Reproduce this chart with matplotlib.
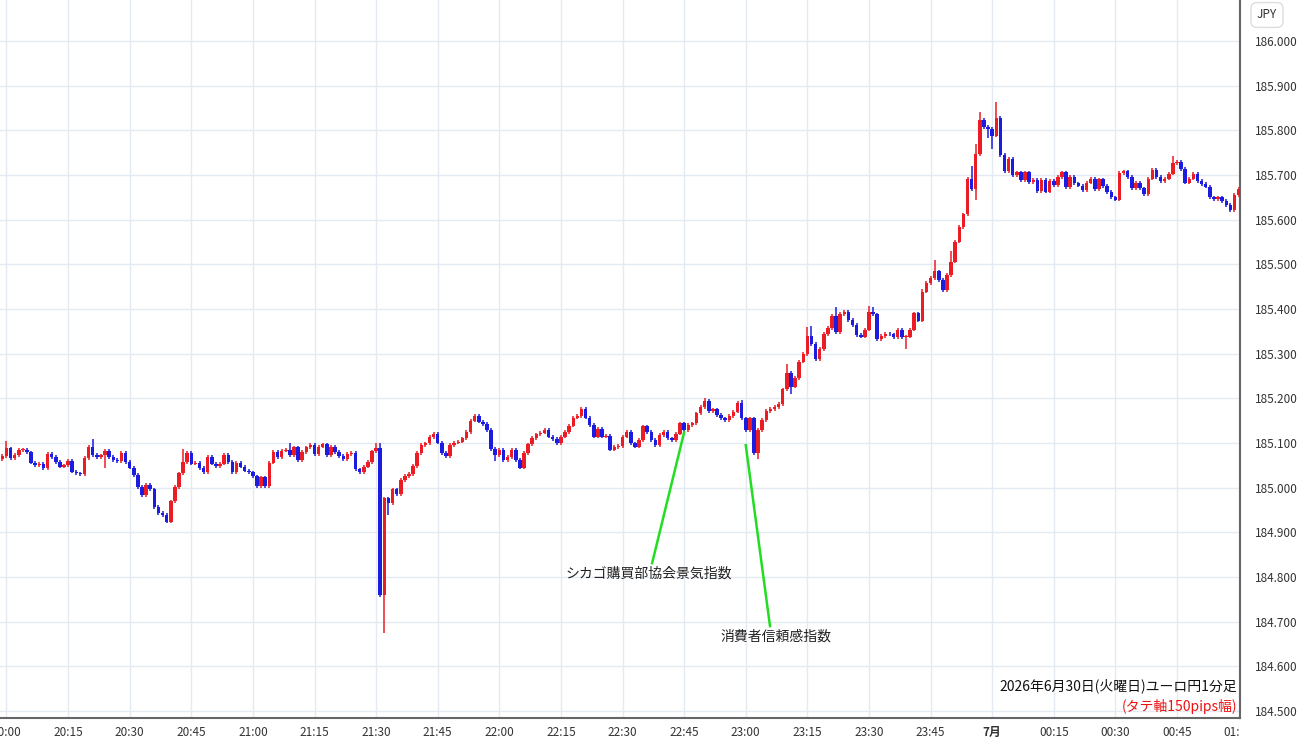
import numpy as np
import matplotlib
matplotlib.use("Agg")
import matplotlib.pyplot as plt
from matplotlib.transforms import Bbox, TransformedBbox

plt.rcParams['font.family'] = ['Noto Sans CJK JP', 'DejaVu Sans']

# 1-minute EUR/JPY closes, 19:59 -> 01:00 (minute index -1 .. 300)
first_open = 185.063
closes = [
    185.071,
    185.088, 185.066, 185.073, 185.084, 185.085, 185.079, 185.056, 185.050, 185.054, 185.043,
    185.075, 185.068, 185.058, 185.047, 185.050, 185.060, 185.036, 185.032, 185.030, 185.066,
    185.092, 185.073, 185.068, 185.072, 185.083, 185.069, 185.062, 185.060, 185.077, 185.058,
    185.045, 185.028, 185.002, 184.984, 185.006, 184.996, 184.956, 184.943, 184.939, 184.924,
    184.969, 185.002, 185.032, 185.058, 185.077, 185.054, 185.055, 185.044, 185.034, 185.069,
    185.054, 185.049, 185.054, 185.073, 185.058, 185.034, 185.056, 185.047, 185.038, 185.034,
    185.025, 185.004, 185.023, 185.004, 185.056, 185.080, 185.068, 185.083, 185.084, 185.073,
    185.090, 185.062, 185.080, 185.090, 185.095, 185.075, 185.092, 185.097, 185.073, 185.092,
    185.080, 185.071, 185.063, 185.075, 185.077, 185.041, 185.034, 185.047, 185.058, 185.081,
    185.088, 184.760, 184.976, 184.966, 184.996, 184.986, 185.017, 185.026, 185.030, 185.048,
    185.077, 185.096, 185.099, 185.113, 185.120, 185.101, 185.077, 185.071, 185.095, 185.101,
    185.103, 185.110, 185.125, 185.150, 185.161, 185.148, 185.142, 185.129, 185.086, 185.073,
    185.084, 185.062, 185.069, 185.084, 185.062, 185.045, 185.077, 185.097, 185.111, 185.119,
    185.123, 185.130, 185.114, 185.109, 185.099, 185.114, 185.124, 185.139, 185.157, 185.160,
    185.176, 185.157, 185.140, 185.114, 185.132, 185.114, 185.116, 185.085, 185.091, 185.093,
    185.114, 185.125, 185.099, 185.092, 185.107, 185.137, 185.125, 185.107, 185.095, 185.118,
    185.125, 185.110, 185.106, 185.121, 185.144, 185.129, 185.140, 185.144, 185.166, 185.181,
    185.194, 185.172, 185.175, 185.163, 185.155, 185.151, 185.160, 185.170, 185.189, 185.155,
    185.129, 185.155, 185.077, 185.129, 185.151, 185.172, 185.176, 185.181, 185.187, 185.220,
    185.257, 185.226, 185.245, 185.282, 185.299, 185.340, 185.322, 185.287, 185.310, 185.344,
    185.357, 185.384, 185.349, 185.389, 185.394, 185.375, 185.364, 185.342, 185.338, 185.354,
    185.394, 185.388, 185.332, 185.339, 185.345, 185.343, 185.337, 185.353, 185.337, 185.338,
    185.354, 185.390, 185.374, 185.439, 185.458, 185.469, 185.484, 185.465, 185.443, 185.476,
    185.506, 185.551, 185.584, 185.612, 185.691, 185.669, 185.746, 185.823, 185.808, 185.803,
    185.788, 185.827, 185.745, 185.709, 185.736, 185.700, 185.706, 185.689, 185.706, 185.684,
    185.689, 185.664, 185.689, 185.663, 185.687, 185.678, 185.696, 185.706, 185.672, 185.696,
    185.681, 185.676, 185.666, 185.683, 185.692, 185.668, 185.690, 185.675, 185.662, 185.650,
    185.645, 185.704, 185.708, 185.695, 185.670, 185.683, 185.670, 185.657, 185.692, 185.711,
    185.696, 185.687, 185.692, 185.703, 185.726, 185.729, 185.713, 185.683, 185.692, 185.702,
    185.687, 185.680, 185.674, 185.650, 185.646, 185.650, 185.642, 185.633, 185.621, 185.655,
    185.668,
]

# long wicks (minute index -> price)
wick_high = {0: 185.105, 21: 185.108, 43: 185.086, 69: 185.100, 90: 185.101, 91: 185.101,
             170: 185.200, 179: 185.196, 190: 185.277, 195: 185.359, 196: 185.362,
             202: 185.405, 210: 185.407, 211: 185.404, 223: 185.445, 226: 185.510,
             230: 185.530, 235: 185.721, 236: 185.769, 237: 185.840, 241: 185.863,
             284: 185.742}
wick_low = {24: 185.043, 92: 184.674, 93: 184.939, 119: 185.060, 183: 185.064,
            191: 185.210, 219: 185.310, 236: 185.644, 239: 185.782, 240: 185.758}

tick_minutes = list(range(0, 301, 15))
tick_labels = ["20:00", "20:15", "20:30", "20:45", "21:00", "21:15", "21:30", "21:45",
               "22:00", "22:15", "22:30", "22:45", "23:00", "23:15", "23:30", "23:45",
               "7月", "00:15", "00:30", "00:45", "01:00"]
price_ticks = [184.5 + 0.1 * i for i in range(16)]

events = [
    ("シカゴ購買部協会景気指数", (165, 185.124), (157.2, 184.831), (156.4, 184.807)),
    ("消費者信頼感指数", (180, 185.095), (185.9, 184.690), (187.4, 184.666)),
]

RED = "#ec1c24"
BLUE = "#1c1ce0"

c = np.array(closes)
o = np.concatenate([[first_open], c[:-1]])
m = np.arange(-1, len(c) - 1)
hi = np.maximum(o, c) + 0.004
lo = np.minimum(o, c) - 0.004
for k, v in wick_high.items():
    hi[k + 1] = v
for k, v in wick_low.items():
    lo[k + 1] = v
up = c >= o
cols = np.where(up, RED, BLUE)

fig = plt.figure(figsize=(13, 7.45), dpi=100)
ax = fig.add_axes([0, 27 / 745, 1240 / 1300, 718 / 745])

ax.vlines(m, lo, hi, colors=cols, linewidth=1.1, zorder=3)
body = np.maximum(np.abs(c - o), 0.0018)
ax.bar(m, body, bottom=np.minimum(o, c), width=0.85, color=cols, linewidth=0, zorder=4)

for label, p0, p1, pt in events:
    ax.plot([p0[0], p1[0]], [p0[1], p1[1]], color="#22dd22", linewidth=1.8, zorder=5)
    ax.text(pt[0], pt[1], label, ha="center", va="center", fontsize=10, color="#222222")

ax.set_xlim(-1.58, 300.34)
ax.set_ylim(184.4842, 186.0918)
ax.set_xticks(tick_minutes)
ax.set_xticklabels(tick_labels)
ax.set_yticks(price_ticks)
ax.set_yticklabels([f"{p:.3f}" for p in price_ticks])
ax.yaxis.tick_right()
ax.tick_params(axis="both", length=0, labelsize=8.5, labelcolor="#333333")
ax.tick_params(axis="y", pad=11)
ax.tick_params(axis="x", pad=6)
for lbl in ax.get_xticklabels():
    if lbl.get_text() == "7月":
        lbl.set_fontweight("bold")
ax.grid(True, color="#e4eaf1", linewidth=1)
ax.set_axisbelow(True)
for s in ("top", "left"):
    ax.spines[s].set_visible(False)
for s in ("right", "bottom"):
    ax.spines[s].set_color("#666666")
    ax.spines[s].set_linewidth(1.5)

clip = TransformedBbox(Bbox([[0, 0], [1240 / 1300, 1]]), fig.transFigure)
for lbl in ax.get_xticklabels():
    lbl.set_clip_box(clip)
    lbl.set_clip_on(True)

fig.text(1267 / 1300, 1 - 15 / 745, "JPY", ha="center", va="center", fontsize=8.5,
         color="#333333",
         bbox=dict(boxstyle="round,pad=0.5", facecolor="white", edgecolor="#dddddd"))

ax.text(0.998, 0.035, "2026年6月30日(火曜日)ユーロ円1分足", transform=ax.transAxes,
        ha="right", va="bottom", fontsize=10, color="#111111")
ax.text(0.998, 0.005, "(タテ軸150pips幅)", transform=ax.transAxes,
        ha="right", va="bottom", fontsize=10, color="#ee1111")

fig.savefig("out.png", dpi=100)
